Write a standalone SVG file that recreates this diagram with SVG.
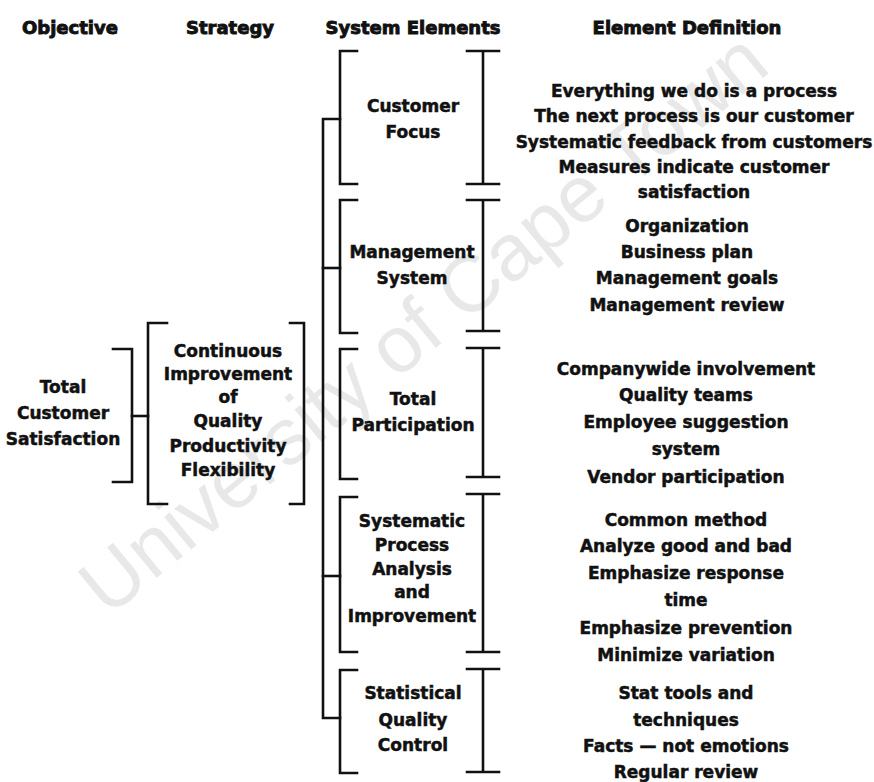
<svg xmlns="http://www.w3.org/2000/svg" width="874" height="782" viewBox="0 0 874 782">
  <style>
    .ln { fill: none; stroke: #111; stroke-width: 2.6; stroke-linecap: square; }
    .hd { font-family: "DejaVu Sans", "Liberation Sans", sans-serif; font-weight: bold; font-size: 18px; fill: #111; stroke: #111; stroke-width: 0.9; text-anchor: middle; }
    .t  { font-family: "DejaVu Sans", "Liberation Sans", sans-serif; font-weight: bold; font-size: 17px; fill: #111; stroke: #111; stroke-width: 0.5; text-anchor: middle; }
    .wm { font-family: "Liberation Sans", Arial, sans-serif; font-size: 80px; fill: #e8e8e8; }
  </style>
  <rect width="874" height="782" fill="#fff"/>

  <!-- watermark -->
  <text class="wm" transform="translate(108,618) rotate(-39.5)">University of Cape Town</text>

  <!-- column headers -->
  <g id="headers">
    <text class="hd" x="70" y="34">Objective</text>
    <text class="hd" x="230" y="34">Strategy</text>
    <text class="hd" x="413" y="34">System Elements</text>
    <text class="hd" x="687" y="34">Element Definition</text>
  </g>

  <!-- brackets and connectors -->
  <g id="connectors">
    <path class="ln" d="M113,349 H132 V482 H113"/>
    <path class="ln" d="M132,416 H148"/>
    <path class="ln" d="M167,323 H148 V504 H167"/>
    <path class="ln" d="M290,323 H304 V504 H290"/>
    <path class="ln" d="M340,119 H323 V718 H340"/>
    <path class="ln" d="M323,268 H340"/>
    <path class="ln" d="M323,576 H340"/>
  </g>

  <g id="objective">
    <text class="t" x="63" y="393">Total</text>
    <text class="t" x="63" y="419">Customer</text>
    <text class="t" x="63" y="445">Satisfaction</text>
  </g>

  <g id="strategy">
    <text class="t" x="228" y="357">Continuous</text>
    <text class="t" x="228" y="380">Improvement</text>
    <text class="t" x="228" y="403">of</text>
    <text class="t" x="228" y="427">Quality</text>
    <text class="t" x="228" y="452">Productivity</text>
    <text class="t" x="228" y="476">Flexibility</text>
  </g>

  <g id="customer-focus">
    <path class="ln" d="M357,51 H340 V184 H357"/>
    <path class="ln" d="M483,51 V184 M467,51 H499 M467,184 H499"/>
    <text class="t" x="413" y="112">Customer</text>
    <text class="t" x="413" y="138">Focus</text>
    <text class="t" x="694" y="97">Everything we do is a process</text>
    <text class="t" x="694" y="122">The next process is our customer</text>
    <text class="t" x="694" y="148">Systematic feedback from customers</text>
    <text class="t" x="694" y="173">Measures indicate customer</text>
    <text class="t" x="694" y="198">satisfaction</text>
  </g>

  <g id="management-system">
    <path class="ln" d="M357,200 H340 V333 H357"/>
    <path class="ln" d="M483,200 V331 M467,200 H499 M467,331 H499"/>
    <text class="t" x="412" y="258">Management</text>
    <text class="t" x="412" y="284">System</text>
    <text class="t" x="687" y="232">Organization</text>
    <text class="t" x="687" y="258">Business plan</text>
    <text class="t" x="687" y="284">Management goals</text>
    <text class="t" x="687" y="311">Management review</text>
  </g>

  <g id="total-participation">
    <path class="ln" d="M357,349 H340 V479 H357"/>
    <path class="ln" d="M483,348 V477 M467,348 H499 M467,477 H499"/>
    <text class="t" x="413" y="405">Total</text>
    <text class="t" x="413" y="431">Participation</text>
    <text class="t" x="686" y="375">Companywide involvement</text>
    <text class="t" x="686" y="401">Quality teams</text>
    <text class="t" x="686" y="428">Employee suggestion</text>
    <text class="t" x="686" y="455">system</text>
    <text class="t" x="686" y="483">Vendor participation</text>
  </g>

  <g id="process-analysis">
    <path class="ln" d="M357,497 H340 V652 H357"/>
    <path class="ln" d="M483,494 V652 M467,494 H499 M467,652 H499"/>
    <text class="t" x="412" y="527">Systematic</text>
    <text class="t" x="412" y="551">Process</text>
    <text class="t" x="412" y="575">Analysis</text>
    <text class="t" x="412" y="598">and</text>
    <text class="t" x="412" y="622">Improvement</text>
    <text class="t" x="686" y="526">Common method</text>
    <text class="t" x="686" y="552">Analyze good and bad</text>
    <text class="t" x="686" y="579">Emphasize response</text>
    <text class="t" x="686" y="606">time</text>
    <text class="t" x="686" y="634">Emphasize prevention</text>
    <text class="t" x="686" y="661">Minimize variation</text>
  </g>

  <g id="quality-control">
    <path class="ln" d="M357,670 H340 V773 H357"/>
    <path class="ln" d="M483,669 V772 M467,669 H499 M467,772 H499"/>
    <text class="t" x="413" y="699">Statistical</text>
    <text class="t" x="413" y="726">Quality</text>
    <text class="t" x="413" y="751">Control</text>
    <text class="t" x="686" y="699">Stat tools and</text>
    <text class="t" x="686" y="726">techniques</text>
    <text class="t" x="686" y="752">Facts — not emotions</text>
    <text class="t" x="686" y="778">Regular review</text>
  </g>
</svg>
